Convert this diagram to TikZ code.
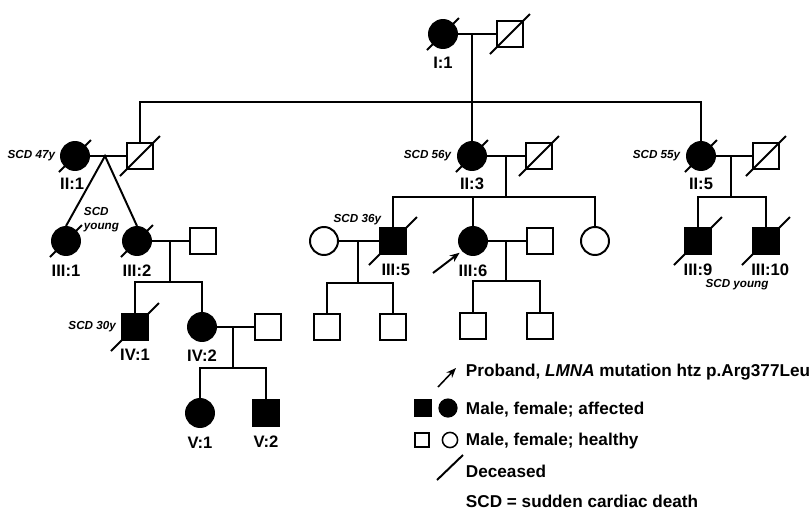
\documentclass[tikz,border=0pt]{standalone}
\usepackage{fontspec}
\setmainfont{Liberation Sans}
\usetikzlibrary{positioning,arrows.meta}
\begin{document}
\begin{tikzpicture}[x=0.025cm, y=-0.025cm, line width=1.4pt,
  male/.style = {rectangle, draw, minimum size=0.66cm, inner sep=0pt},
  female/.style = {circle, draw, minimum size=0.7cm, inner sep=0pt},
  affected/.style = {fill=black},
  dead/.style = {append after command={%
      \pgfextra{
        \draw[black, fill=none] ([shift={(-#1,#1)}]\tikzlastnode.center) -- ([shift={(#1,-#1)}]\tikzlastnode.center);
      }
    }
  },
  idlab/.style = {font=\fontsize{11.8}{13}\selectfont\bfseries, inner sep=0pt},
  scd/.style = {font=\fontsize{8.3}{10.5}\selectfont\bfseries\itshape, inner sep=0pt},
  legtext/.style = {font=\fontsize{12.2}{14}\selectfont\bfseries, inner sep=0pt, anchor=base west},
  proband/.style = {-{Stealth[length=7pt,width=5.5pt]}}
]
        \useasboundingbox (0,0) rectangle (812,509);
        % generation I
        \node[female, affected, dead=16] (i1) at (443,34) {};
        \node[male, dead=20] (i2) at (510,34) {};
        \node[idlab, below=0.18cm of i1] (li1) {I:1};
        \coordinate (m1) at (472,34);
        \coordinate (s1) at (472,102);
        \draw (i1) -- (i2);
        \draw (m1) -- (s1);
        % generation II
        \node[female, affected, dead=16] (ii1) at (75,156) {};
        \node[male, dead=20] (ii2) at (140,156) {};
        \node[female, affected, dead=16] (ii3) at (472,156) {};
        \node[male, dead=20] (ii4) at (539,156) {};
        \node[female, affected, dead=16] (ii5) at (701,156) {};
        \node[male, dead=20] (ii6) at (766,156) {};
        \node[idlab, below=0.16cm of ii1, xshift=-2pt] (lii1) {II:1};
        \node[idlab, below=0.16cm of ii3] (lii3) {II:3};
        \node[idlab, below=0.16cm of ii5] (lii5) {II:5};
        \node[scd, left=0.1cm of ii1] (tii1) {SCD 47y};
        \node[scd, left=0.12cm of ii3] (tii3) {SCD 56y};
        \node[scd, left=0.12cm of ii5] (tii5) {SCD 55y};
        \draw (ii2.north) |- (s1) -| (ii5.north);
        \draw (s1) -- (ii3);
        \draw (ii1) -- (ii2);
        \draw (ii3) -- (ii4);
        \draw (ii5) -- (ii6);
        % generation III
        \node[female, affected, dead=16] (iii1) at (66,241) {};
        \node[female, affected, dead=16] (iii2) at (137,241) {};
        \node[male] (iii3) at (203,241) {};
        \node[female] (iii4) at (324,241) {};
        \node[male, affected, dead=24] (iii5) at (393,241) {};
        \node[female, affected] (iii6) at (473,241) {};
        \node[male] (iii7) at (540,241) {};
        \node[female] (iii8) at (595,241) {};
        \node[male, affected, dead=24] (iii9) at (698,241) {};
        \node[male, affected, dead=24] (iii10) at (766,241) {};
        \node[idlab, below=0.2cm of iii1] (liii1) {III:1};
        \node[idlab, below=0.2cm of iii2] (liii2) {III:2};
        \node[idlab, below=0.2cm of iii5, xshift=2pt] (liii5) {III:5};
        \node[idlab, below=0.2cm of iii6] (liii6) {III:6};
        \node[idlab, below=0.2cm of iii9] (liii9) {III:9};
        \node[idlab, below=0.2cm of iii10, xshift=3pt] (liii10) {III:10};
        \node[scd, align=left, anchor=north west] (tiii1) at (83,206) {SCD\\young};
        \node[scd, anchor=east] (tiii5) at (382,220) {SCD 36y};
        \node[scd] (tiii9) at (737,285) {SCD young};
        \coordinate (t1) at (105,156);
        \draw (iii1.north) -- (t1) -- (iii2.north);
        \coordinate (m3) at (506,156);
        \coordinate (s3) at (506,197);
        \draw (m3) -- (s3);
        \draw (iii5) |- (s3) -| (iii8);
        \draw (iii6) -- (iii6 |- s3);
        \coordinate (m5) at (731,156);
        \coordinate (s5) at (731,197);
        \draw (m5) -- (s5);
        \draw (iii9) |- (s5) -| (iii10);
        \draw (iii2) -- (iii3);
        \draw (iii4) -- (iii5);
        \draw (iii6) -- (iii7);
        \coordinate (pbtail) at (433,273);
        \draw[proband, shorten >=2pt] (pbtail) -- (iii6.222);
        % generation IV
        \node[male, affected, dead=24] (iv1) at (135,327) {};
        \node[female, affected] (iv2) at (202,327) {};
        \node[male] (iv3) at (268,327) {};
        \node[male] (iv4) at (327,327) {};
        \node[male] (iv5) at (393,327) {};
        \node[male] (iv6) at (473,326) {};
        \node[male] (iv7) at (540,326) {};
        \node[idlab, below=0.18cm of iv1] (liv1) {IV:1};
        \node[idlab, below=0.18cm of iv2] (liv2) {IV:2};
        \node[scd, left=0.1cm of iv1] (tiv1) {SCD 30y};
        \coordinate (m32) at (170,241);
        \coordinate (s32) at (170,282);
        \draw (m32) -- (s32);
        \draw (iv1) |- (s32) -| (iv2);
        \coordinate (m34) at (358,241);
        \coordinate (s34) at (358,283);
        \draw (m34) -- (s34);
        \draw (iv4) |- (s34) -| (iv5);
        \coordinate (m36) at (506,241);
        \coordinate (s36) at (506,281);
        \draw (m36) -- (s36);
        \draw (iv6) |- (s36) -| (iv7);
        \draw (iv2) -- (iv3);
        % generation V
        \node[female, affected] (v1) at (200,413) {};
        \node[male, affected] (v2) at (266,413) {};
        \node[idlab, below=0.2cm of v1] (lv1) {V:1};
        \node[idlab, below=0.2cm of v2] (lv2) {V:2};
        \coordinate (m42) at (233,327);
        \coordinate (s42) at (233,368);
        \draw (m42) -- (s42);
        \draw (v1) |- (s42) -| (v2);
        % legend
        \coordinate (lgtail) at (438,387);
        \coordinate (lgtip) at (456,368);
        \draw[proband, line width=1.1pt] (lgtail) -- (lgtip);
        \node[male, affected, minimum size=0.4cm] (lgma) at (423,408) {};
        \node[female, affected, minimum size=0.43cm] (lgfa) at (448,408) {};
        \node[male, line width=1.1pt, minimum size=0.35cm] (lgmh) at (422,440) {};
        \node[female, line width=1.1pt, minimum size=0.38cm] (lgfh) at (450,440) {};
        \coordinate (lgd1) at (437,480);
        \coordinate (lgd2) at (463,455);
        \draw (lgd1) -- (lgd2);
        \node[legtext] (lg1) at (465,376) {Proband, \textit{LMNA} mutation htz p.Arg377Leu};
        \node[legtext] (lg2) at (465,414) {Male, female; affected};
        \node[legtext] (lg3) at (465,445) {Male, female; healthy};
        \node[legtext] (lg4) at (465,477) {Deceased};
        \node[legtext] (lg5) at (465,507) {SCD = sudden cardiac death};
    \end{tikzpicture}
\end{document}
